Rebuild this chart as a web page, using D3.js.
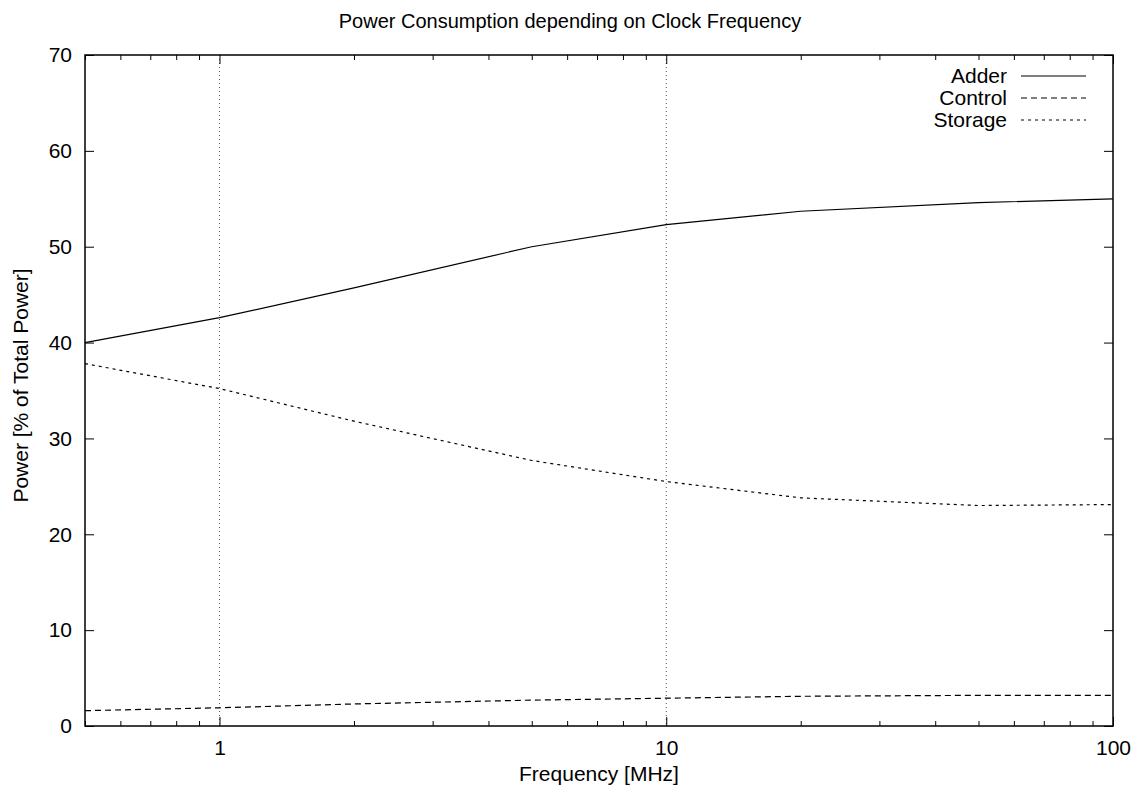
<!DOCTYPE html>
<html>
<head>
<meta charset="utf-8">
<script src="https://cdn.jsdelivr.net/npm/d3@7"></script>
<style>
body { margin: 0; background: #fff; }
text { font-family: "Liberation Sans", Arial, sans-serif; fill: #000; }
</style>
</head>
<body>
<svg></svg>
<script>
// frequency points (MHz)
const freqs = [0.5, 1, 2, 5, 10, 20, 50, 100];
const adder = [40.0, 42.6, 45.7, 50.0, 52.3, 53.7, 54.6, 55.0];
const control = [1.6, 1.9, 2.3, 2.7, 2.9, 3.1, 3.2, 3.2];
const storage = [37.8, 35.2, 31.8, 27.7, 25.5, 23.8, 23.0, 23.1];
const xMajor = [1, 10, 100];
const yTicks = [0, 10, 20, 30, 40, 50, 60, 70];

const series = [
	{ name: "Adder", values: adder, dash: null },
	{ name: "Control", values: control, dash: "6,4" },
	{ name: "Storage", values: storage, dash: "3,4" }
];

var svgWidth = 1140, svgHeight = 796;
var margin = {top: 55, right: 27, bottom: 70, left: 85};
var width = svgWidth - margin.left - margin.right;
var height = svgHeight - margin.top - margin.bottom;
var fs = 21;

var svg = d3.select("svg")
	.attr("width", svgWidth)
	.attr("height", svgHeight);

var g = svg.append("g")
	.attr("transform", "translate(" + margin.left + "," + margin.top + ")");

var x = d3.scaleLog().domain([0.5, 100]).range([0, width]);
var y = d3.scaleLinear().domain([0, 70]).range([height, 0]);

// minor ticks for log axis
var minor = [];
[0.1, 1, 10].forEach(function(d) {
	for (var k = 2; k <= 9; k++) {
		var v = d * k;
		if (v >= 0.5 && v < 100 && xMajor.indexOf(v) < 0) minor.push(v);
	}
});

// dotted grid at 1 and 10
g.selectAll(".grid")
	.data([1, 10])
	.enter().append("line")
	.attr("x1", d => x(d)).attr("x2", d => x(d))
	.attr("y1", 0).attr("y2", height)
	.attr("stroke", "#555")
	.attr("stroke-width", 1)
	.attr("stroke-dasharray", "1,3");

// bottom and top axes (inward ticks)
function xAxis(sel, pos, dir) {
	sel.append("g")
		.attr("transform", "translate(0," + pos + ")")
		.call(d3.axisBottom(x).tickValues(xMajor).tickSize(-9 * dir).tickPadding(14).tickFormat(dir > 0 ? d3.format("d") : ""))
		.call(a => a.select(".domain").remove())
		.call(a => a.selectAll("text").attr("font-size", fs));
	sel.append("g")
		.attr("transform", "translate(0," + pos + ")")
		.call(d3.axisBottom(x).tickValues(minor).tickSize(-5 * dir).tickFormat(""))
		.call(a => a.select(".domain").remove());
}
xAxis(g, height, 1);
xAxis(g, 0, -1);

g.append("g")
	.call(d3.axisLeft(y).tickValues(yTicks).tickSize(-9).tickPadding(13))
	.call(a => a.select(".domain").remove())
	.call(a => a.selectAll("text").attr("font-size", fs));
g.append("g")
	.attr("transform", "translate(" + width + ",0)")
	.call(d3.axisRight(y).tickValues(yTicks).tickSize(-9).tickFormat(""))
	.call(a => a.select(".domain").remove());

g.selectAll(".tick line").attr("stroke", "#000");

// frame
g.append("rect")
	.attr("width", width).attr("height", height)
	.attr("fill", "none").attr("stroke", "#000").attr("stroke-width", 1.5);

var line = d3.line()
	.x(function(d, i) { return x(freqs[i]); })
	.y(function(d) { return y(d); });

g.selectAll(".series")
	.data(series)
	.enter().append("path")
	.attr("fill", "none")
	.attr("stroke", "#000")
	.attr("stroke-width", 1.2)
	.attr("stroke-dasharray", d => d.dash)
	.attr("d", d => line(d.values));

// legend
var leg = g.selectAll(".leg")
	.data(series)
	.enter().append("g")
	.attr("transform", (d, i) => "translate(" + (width - 106) + "," + (21 + i * 22) + ")");
leg.append("text")
	.attr("text-anchor", "end")
	.attr("dy", "0.35em")
	.attr("font-size", fs)
	.text(d => d.name);
leg.append("line")
	.attr("x1", 14).attr("x2", 79)
	.attr("stroke", "#000")
	.attr("stroke-width", 1.2)
	.attr("stroke-dasharray", d => d.dash);

svg.append("text")
	.attr("x", 570).attr("y", 28)
	.attr("text-anchor", "middle")
	.attr("font-size", 20)
	.text("Power Consumption depending on Clock Frequency");

svg.append("text")
	.attr("x", margin.left + width / 2).attr("y", 781)
	.attr("text-anchor", "middle")
	.attr("font-size", fs)
	.text("Frequency [MHz]");

svg.append("text")
	.attr("transform", "translate(28," + (margin.top + height / 2 - 5) + ") rotate(-90)")
	.attr("text-anchor", "middle")
	.attr("font-size", fs)
	.text("Power [% of Total Power]");
</script>
</body>
</html>
